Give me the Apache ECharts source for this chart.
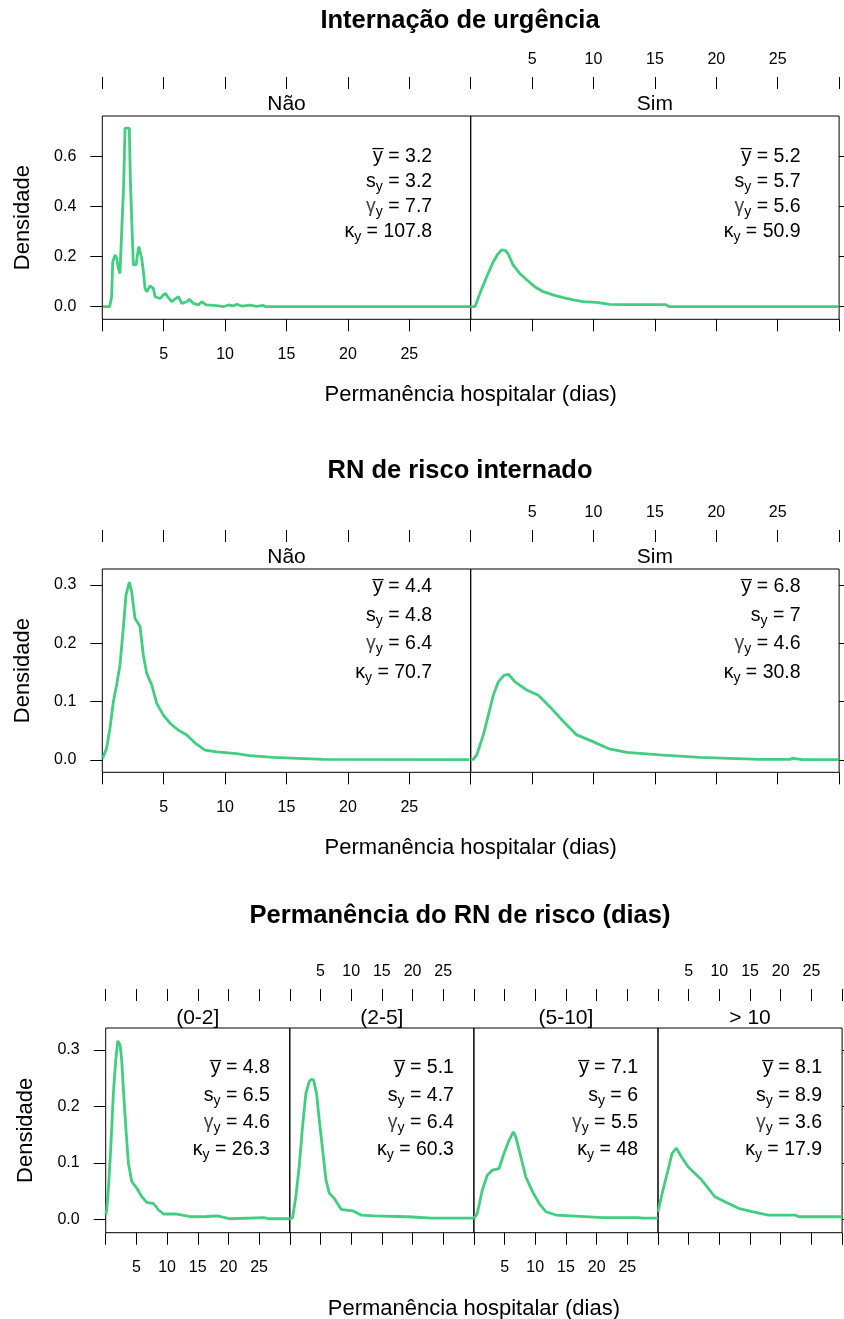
<!DOCTYPE html>
<html><head><meta charset="utf-8">
<script src="https://cdn.jsdelivr.net/npm/echarts@6/dist/echarts.min.js"></script>
<style>html,body{margin:0;padding:0;background:#fff}#c{width:844px;height:1319px}</style>
</head><body><div id="c"></div>
<script>
// ---------- DATA ----------
const xTicks = [0, 5, 10, 15, 20, 25, 30];
const xTickLabels = [5, 10, 15, 20, 25];
const yTicksUrg = [0, 0.2, 0.4, 0.6];
const yTicksRisco = [0, 0.1, 0.2, 0.3];
const yTicksPerm = [0, 0.1, 0.2, 0.3];

const mainTitles = ['Internação de urgência', 'RN de risco internado', 'Permanência do RN de risco (dias)'];
const stripsUrg = ['Não', 'Sim'];
const stripsRisco = ['Não', 'Sim'];
const stripsPerm = ['(0-2]', '(2-5]', '(5-10]', '> 10'];
const xTitle = 'Permanência hospitalar (dias)';
const yTitle = 'Densidade';

// stats per panel (order: urg Não, urg Sim, risco Não, risco Sim, perm 4 panels)
const statMean = ['3.2', '5.2', '4.4', '6.8', '4.8', '5.1', '7.1', '8.1'];
const statSd   = ['3.2', '5.7', '4.8', '7',   '6.5', '4.7', '6',   '8.9'];
const statSkew = ['7.7', '5.6', '6.4', '4.6', '4.6', '6.4', '5.5', '3.6'];
const statKurt = ['107.8', '50.9', '70.7', '30.8', '26.3', '60.3', '48', '17.9'];

// density curves [days, density]
const urgNao = [[0.05,0],[0.6,0],[0.76,0.04],[0.85,0.18],[1.04,0.207],[1.17,0.193],[1.31,0.153],[1.44,0.133],[1.52,0.233],[1.66,0.233],[1.74,0.487],[1.85,0.714],[2.2,0.714],[2.28,0.513],[2.39,0.513],[2.45,0.273],[2.53,0.167],[2.75,0.167],[2.86,0.207],[2.97,0.24],[3.1,0.24],[3.21,0.193],[3.35,0.14],[3.48,0.073],[3.62,0.06],[3.89,0.083],[4.16,0.073],[4.3,0.04],[4.7,0.033],[4.97,0.047],[5.16,0.053],[5.38,0.036],[5.65,0.02],[5.92,0.03],[6.2,0.04],[6.47,0.013],[6.88,0.02],[7.09,0.03],[7.42,0.013],[7.82,0.007],[8.1,0.02],[8.45,0.007],[9.32,0.004],[9.86,0],[10.27,0.007],[10.67,0.003],[10.95,0.01],[11.4,0.002],[12.0,0.006],[12.6,0.001],[13.1,0.005],[13.3,0],[30,0]];
const urgSim = [[0,0],[0.35,0],[0.8,0.06],[1.3,0.12],[1.84,0.18],[2.2,0.21],[2.52,0.227],[2.8,0.225],[3.04,0.213],[3.45,0.167],[3.99,0.133],[4.54,0.109],[5.22,0.08],[5.9,0.06],[6.71,0.047],[7.53,0.036],[8.35,0.027],[9.16,0.02],[10.25,0.017],[11.3,0.0093],[12.7,0.008],[15.9,0.008],[16.2,0],[30,0]];
const riscoNao = [[0.02,0.002],[0.35,0.02],[0.62,0.054],[0.9,0.1],[1.17,0.129],[1.44,0.163],[1.71,0.226],[1.93,0.283],[2.2,0.305],[2.39,0.289],[2.66,0.243],[3.07,0.229],[3.34,0.18],[3.61,0.149],[4.02,0.129],[4.43,0.097],[4.97,0.077],[5.52,0.063],[6.2,0.051],[6.88,0.043],[7.56,0.029],[8.37,0.017],[9.32,0.014],[10.95,0.011],[12.0,0.0074],[13.9,0.0046],[18.0,0.0011],[29.9,0.0005]];
const riscoSim = [[0,0.001],[0.21,0.001],[0.49,0.0086],[1.03,0.043],[1.58,0.089],[1.84,0.111],[2.25,0.134],[2.7,0.145],[3.07,0.147],[3.61,0.134],[4.56,0.12],[5.51,0.111],[6.46,0.091],[7.55,0.066],[8.64,0.043],[10.0,0.031],[11.3,0.019],[12.7,0.013],[15.4,0.0086],[18.65,0.0046],[23.5,0.001],[26.0,0.001],[26.2,0.003],[27.0,0.0005],[30,0.0005]];
const perm02 = [[0,0.008],[0.16,0.0165],[0.43,0.052],[0.81,0.123],[1.25,0.223],[1.63,0.282],[1.96,0.316],[2.34,0.309],[2.61,0.282],[2.89,0.229],[3.27,0.164],[3.7,0.099],[4.25,0.067],[5.07,0.055],[5.89,0.04],[6.7,0.03],[7.8,0.028],[8.61,0.0165],[9.43,0.0094],[11.6,0.0094],[13.8,0.0046],[16.5,0.005],[18.2,0.006],[20.3,0.001],[25.8,0.003],[26.5,0.001],[30,0.001]];
const perm25 = [[0,0.002],[0.44,0.002],[0.98,0.04],[1.53,0.093],[2.07,0.164],[2.62,0.223],[3.16,0.244],[3.5,0.248],[3.87,0.247],[4.36,0.223],[4.8,0.176],[5.35,0.123],[5.89,0.07],[6.44,0.046],[7.26,0.037],[8.35,0.0177],[10.26,0.015],[11.6,0.0076],[13.8,0.006],[19.3,0.0046],[23.1,0.002],[30,0.002]];
const perm510 = [[0,0.002],[0.55,0.0106],[1.37,0.052],[2.19,0.078],[3.0,0.087],[4.09,0.09],[4.91,0.117],[5.73,0.14],[6.44,0.155],[6.82,0.146],[7.64,0.111],[8.46,0.075],[9.55,0.049],[10.64,0.028],[11.73,0.0135],[13.37,0.0076],[16.6,0.0058],[21.0,0.003],[26.8,0.003],[27.0,0.0058],[27.4,0.002],[30,0.002]];
const perm10 = [[0,0.0135],[0.1,0.0135],[0.81,0.052],[1.63,0.087],[2.29,0.117],[3.0,0.126],[3.81,0.111],[4.9,0.093],[7.09,0.07],[9.27,0.04],[10.9,0.031],[13.1,0.0195],[15.3,0.0135],[18.0,0.0076],[22.4,0.0076],[22.9,0.0046],[30,0.0046]];

// ---------- LAYOUT / STYLE ----------
const FONT = '"Liberation Sans", Arial, sans-serif';
const LINE = '#43CD80';
const groups = [
  {title: mainTitles[0], strips: stripsUrg, curves: [urgNao, urgSim], yTicks: yTicksUrg, ymin: -0.0504, ymax: 0.7628,
   top: 116, h: 203.3, left: 102.3, w: 368.4, titleY: 20.5, stripY: 104, statRight: 38.5, statTop: 40.5, statGap: 25, ylabX: 23},
  {title: mainTitles[1], strips: stripsRisco, curves: [riscoNao, riscoSim], yTicks: yTicksRisco, ymin: -0.0211, ymax: 0.3274,
   top: 569, h: 203.3, left: 102.3, w: 368.4, titleY: 471, stripY: 557, statRight: 38.5, statTop: 18, statGap: 28.4, ylabX: 23},
  {title: mainTitles[2], strips: stripsPerm, curves: [perm02, perm25, perm510, perm10], yTicks: yTicksPerm, ymin: -0.0237, ymax: 0.339,
   top: 1028, h: 204.7, left: 105.7, w: 184.1, titleY: 916, stripY: 1018, statRight: 20, statTop: 40, statGap: 27.3, ylabX: 26}
];

const tickStyle = {color: '#000', width: 1};
const labelFont = {fontSize: 16, color: '#000', fontFamily: FONT};
const grid = [], xAxis = [], yAxis = [], series = [], graphic = [];
const RICH = {
  m: {fontSize: 19.5, fontFamily: FONT, fill: '#000', color: '#000', lineHeight: 26},
  t: {fontSize: 19.5, fontFamily: FONT, fill: '#000', color: '#000', lineHeight: 26},
  g: {fontSize: 19.5, fontFamily: FONT, fill: '#444', color: '#444', lineHeight: 26},
  s: {fontSize: 14, fontFamily: FONT, fill: '#000', color: '#000', lineHeight: 14, padding: [11, 0, 0, 0]}
};
let p = 0;
groups.forEach((g) => {
  const n = g.strips.length;
  graphic.push({type: 'text', x: 460, y: g.titleY, z: 100,
    style: {text: g.title, fontSize: 25.5, fontWeight: 'bold', fontFamily: FONT, fill: '#000',
            align: 'center', verticalAlign: 'middle', textAlign: 'center', textVerticalAlign: 'middle'}});
  graphic.push({type: 'text', x: g.left + g.w * n / 2, y: g.top + g.h + 76, z: 100,
    style: {text: xTitle, fontSize: 22, fontFamily: FONT, fill: '#000',
            align: 'center', verticalAlign: 'middle', textAlign: 'center', textVerticalAlign: 'middle'}});
  graphic.push({type: 'text', x: g.ylabX, y: g.top + g.h / 2, rotation: Math.PI / 2, z: 100,
    style: {text: yTitle, fontSize: 22, fontFamily: FONT, fill: '#000',
            align: 'center', verticalAlign: 'middle', textAlign: 'center', textVerticalAlign: 'middle'}});
  g.strips.forEach((s, k) => {
    const left = g.left + k * g.w;
    grid.push({left: left, top: g.top, width: g.w, height: g.h, show: true, borderColor: '#000', borderWidth: 1, containLabel: false});
    const labelsBottom = (k % 2 === 0);
    const xb = {type: 'value', gridIndex: p, min: 0, max: 30, interval: 5, splitLine: {show: false},
      axisLine: {show: false, onZero: false},
      axisTick: {show: true, length: 12, inside: false, lineStyle: tickStyle, customValues: xTicks}};
    xAxis.push(Object.assign({}, xb, {position: 'bottom',
      axisLabel: Object.assign({show: labelsBottom, customValues: xTickLabels, margin: 27}, labelFont)}));
    const xIdx = xAxis.length - 1;
    xAxis.push(Object.assign({}, xb, {position: 'top', offset: 27,
      axisLabel: Object.assign({show: !labelsBottom, customValues: xTickLabels, margin: 21}, labelFont)}));
    yAxis.push({type: 'value', gridIndex: p, min: g.ymin, max: g.ymax, position: 'left',
      splitLine: {show: false}, axisLine: {show: false, onZero: false},
      axisTick: {show: k === 0, length: 12, inside: false, lineStyle: tickStyle, customValues: g.yTicks},
      axisLabel: Object.assign({show: k === 0, customValues: g.yTicks, margin: 26, formatter: (v) => v.toFixed(1)}, labelFont)});
    const yIdx = yAxis.length - 1;
    if (k === n - 1) {
      yAxis.push({type: 'value', gridIndex: p, min: g.ymin, max: g.ymax, position: 'right',
        splitLine: {show: false}, axisLine: {show: false, onZero: false},
        axisTick: {show: true, length: 12, inside: false, lineStyle: tickStyle, customValues: g.yTicks},
        axisLabel: {show: false}});
    }
    series.push({type: 'line', xAxisIndex: xIdx, yAxisIndex: yIdx, data: g.curves[k], showSymbol: false, symbol: 'none',
      lineStyle: {color: LINE, width: 2.8}, clip: true, animation: false, z: 5});
    graphic.push({type: 'text', x: left + g.w / 2, y: g.stripY, z: 100,
      style: {text: s, fontSize: 21, fontFamily: FONT, fill: '#000',
              align: 'center', verticalAlign: 'middle', textAlign: 'center', textVerticalAlign: 'middle'}});
    const lines = [
      '{m|y\u0305}{t| = ' + statMean[p] + '}',
      '{m|s}{s|y}{t| = ' + statSd[p] + '}',
      '{g|\u03B3}{s|y}{t| = ' + statSkew[p] + '}',
      '{m|\u03BA}{s|y}{t| = ' + statKurt[p] + '}'
    ];
    const sx = left + g.w - g.statRight;
    lines.forEach((txt, li) => {
      graphic.push({type: 'text', x: sx, y: g.top + g.statTop + li * g.statGap, z: 100,
        style: {text: txt, rich: RICH, fontSize: 19.5, fontFamily: FONT, fill: '#000',
                align: 'right', verticalAlign: 'middle', textAlign: 'right', textVerticalAlign: 'middle'}});
    });
    p++;
  });
});

const chart = echarts.init(document.getElementById('c'), null, {renderer: 'canvas'});
chart.setOption({animation: false, backgroundColor: '#fff', grid: grid, xAxis: xAxis, yAxis: yAxis, series: series,
  graphic: {elements: graphic}});
</script>
</body></html>
